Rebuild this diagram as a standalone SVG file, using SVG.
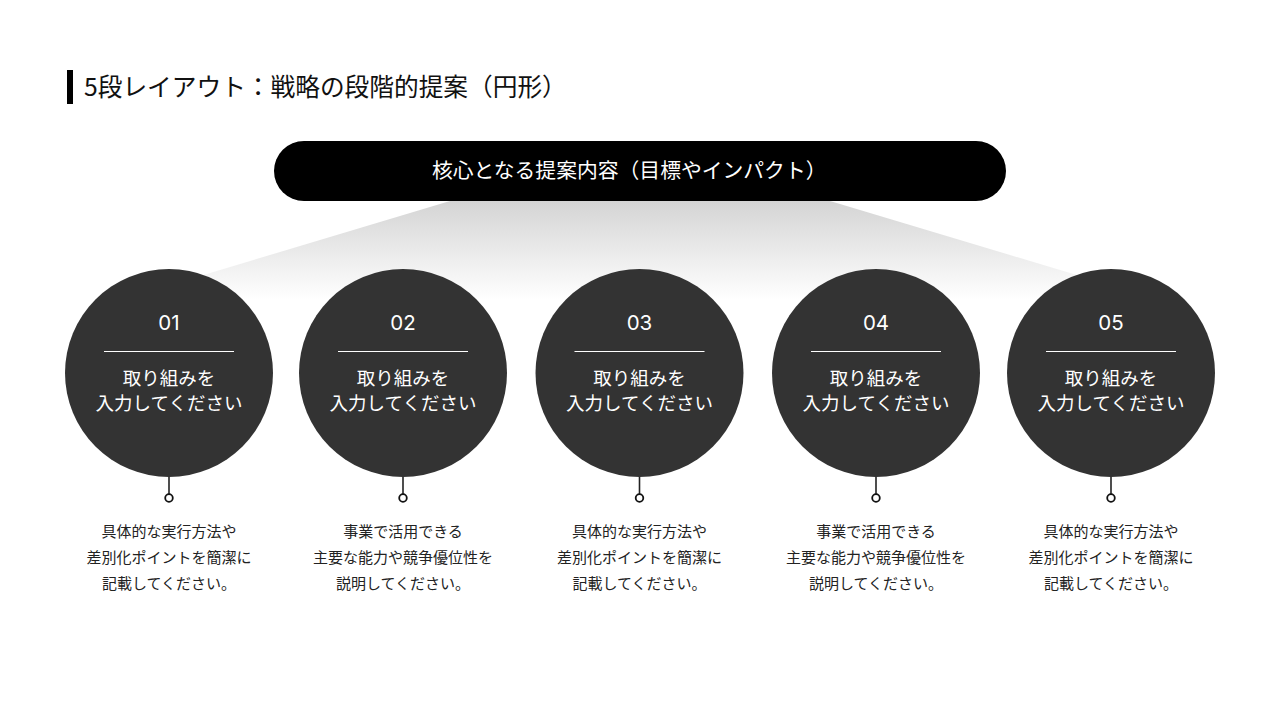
<svg xmlns="http://www.w3.org/2000/svg" width="1280" height="720" viewBox="0 0 1280 720">
  <defs>
    <linearGradient id="fan" x1="0" y1="0" x2="0" y2="1">
      <stop offset="0" stop-color="#d4d4d4"/>
      <stop offset="0.55" stop-color="#ececec"/>
      <stop offset="1" stop-color="#ffffff"/>
    </linearGradient>
    <style>
      .jp { font-family: "Noto Sans CJK JP", "Noto Sans", sans-serif; }
      .num { font-family: Inter, "Noto Sans", sans-serif; font-size: 20.5px; fill: #ffffff; text-anchor: middle; }
      .ctext { font-family: "Noto Sans CJK JP", sans-serif; font-size: 18.5px; fill: #ffffff; text-anchor: middle; }
      .desc { font-family: "Noto Sans CJK JP", sans-serif; font-size: 15px; fill: #222222; text-anchor: middle; }
      .circle { fill: #333333; }
      .rule { stroke: #ffffff; stroke-width: 1.2; }
      .stem { stroke: #222222; stroke-width: 1.6; }
      .dot { fill: #ffffff; stroke: #111111; stroke-width: 1.8; }
    </style>
  </defs>
  <rect width="1280" height="720" fill="#ffffff"/>

  <g id="title">
    <rect x="67" y="70" width="6" height="34" fill="#000000"/>
    <text x="84" y="96" class="jp" font-size="24.7" fill="#111111">5段レイアウト：戦略の段階的提案（円形）</text>
  </g>

  <g id="fan-bg">
    <polygon points="450,201 830,201 1160,300 120,300" fill="url(#fan)"/>
  </g>

  <g id="core">
    <rect x="274" y="141" width="732" height="60" rx="30" ry="30" fill="#000000"/>
    <text x="432" y="178" class="jp" font-size="20.8" fill="#ffffff">核心となる提案内容（目標やインパクト）</text>
  </g>

  <g id="connectors">
    <line class="stem" x1="169" y1="473" x2="169" y2="494"/>
    <line class="stem" x1="403" y1="473" x2="403" y2="494"/>
    <line class="stem" x1="639.5" y1="473" x2="639.5" y2="494"/>
    <line class="stem" x1="876" y1="473" x2="876" y2="494"/>
    <line class="stem" x1="1111" y1="473" x2="1111" y2="494"/>
    <circle class="dot" cx="169" cy="498" r="3.8"/>
    <circle class="dot" cx="403" cy="498" r="3.8"/>
    <circle class="dot" cx="639.5" cy="498" r="3.8"/>
    <circle class="dot" cx="876" cy="498" r="3.8"/>
    <circle class="dot" cx="1111" cy="498" r="3.8"/>
  </g>

  <g id="step1">
    <circle class="circle" cx="169" cy="373" r="104"/>
    <text class="num" x="169" y="330">01</text>
    <line class="rule" x1="104" y1="351.5" x2="234" y2="351.5"/>
    <text class="ctext" x="169" y="385">取り組みを</text>
    <text class="ctext" x="169" y="410">入力してください</text>
    <text class="desc" x="169" y="537">具体的な実行方法や</text>
    <text class="desc" x="169" y="563">差別化ポイントを簡潔に</text>
    <text class="desc" x="169" y="589">記載してください。</text>
  </g>

  <g id="step2">
    <circle class="circle" cx="403" cy="373" r="104"/>
    <text class="num" x="403" y="330">02</text>
    <line class="rule" x1="338" y1="351.5" x2="468" y2="351.5"/>
    <text class="ctext" x="403" y="385">取り組みを</text>
    <text class="ctext" x="403" y="410">入力してください</text>
    <text class="desc" x="403" y="537">事業で活用できる</text>
    <text class="desc" x="403" y="563">主要な能力や競争優位性を</text>
    <text class="desc" x="403" y="589">説明してください。</text>
  </g>

  <g id="step3">
    <circle class="circle" cx="639.5" cy="373" r="104"/>
    <text class="num" x="639.5" y="330">03</text>
    <line class="rule" x1="574.5" y1="351.5" x2="704.5" y2="351.5"/>
    <text class="ctext" x="639.5" y="385">取り組みを</text>
    <text class="ctext" x="639.5" y="410">入力してください</text>
    <text class="desc" x="639.5" y="537">具体的な実行方法や</text>
    <text class="desc" x="639.5" y="563">差別化ポイントを簡潔に</text>
    <text class="desc" x="639.5" y="589">記載してください。</text>
  </g>

  <g id="step4">
    <circle class="circle" cx="876" cy="373" r="104"/>
    <text class="num" x="876" y="330">04</text>
    <line class="rule" x1="811" y1="351.5" x2="941" y2="351.5"/>
    <text class="ctext" x="876" y="385">取り組みを</text>
    <text class="ctext" x="876" y="410">入力してください</text>
    <text class="desc" x="876" y="537">事業で活用できる</text>
    <text class="desc" x="876" y="563">主要な能力や競争優位性を</text>
    <text class="desc" x="876" y="589">説明してください。</text>
  </g>

  <g id="step5">
    <circle class="circle" cx="1111" cy="373" r="104"/>
    <text class="num" x="1111" y="330">05</text>
    <line class="rule" x1="1046" y1="351.5" x2="1176" y2="351.5"/>
    <text class="ctext" x="1111" y="385">取り組みを</text>
    <text class="ctext" x="1111" y="410">入力してください</text>
    <text class="desc" x="1111" y="537">具体的な実行方法や</text>
    <text class="desc" x="1111" y="563">差別化ポイントを簡潔に</text>
    <text class="desc" x="1111" y="589">記載してください。</text>
  </g>
</svg>
